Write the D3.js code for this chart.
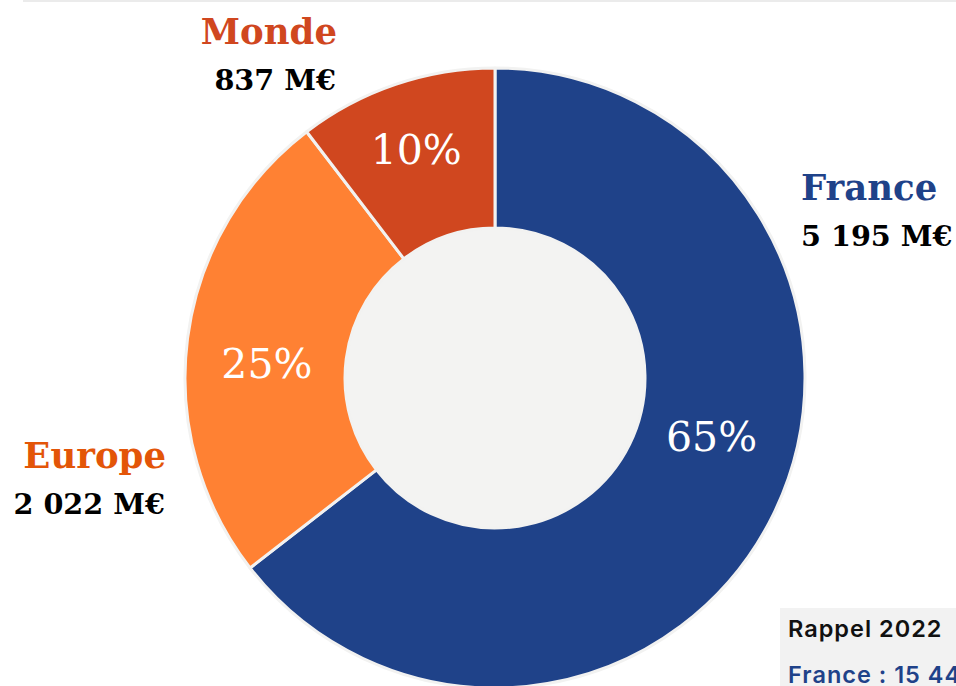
<!DOCTYPE html>
<html>
<head>
<meta charset="utf-8">
<script src="https://cdn.jsdelivr.net/npm/d3@7"></script>
<style>
  body { margin: 0; background: #fff; }
  svg { display: block; }
</style>
</head>
<body>
<svg id="chart"></svg>
<script>
const regions = ['France', 'Europe', 'Monde'];
const amounts = [5195, 2022, 837];
const amountLabels = ['5 195 M€', '2 022 M€', '837 M€'];
const pctLabels = ['65%', '25%', '10%'];
const colors = ['#1f4289', '#ff8133', '#d0471f'];
const nameColors = ['#1f4289', '#e35508', '#d0471f'];

const width = 956, height = 686;
const cx = 495, cy = 378;
const outerR = 310, innerR = 150;

const svg = d3.select('#chart')
  .attr('width', width)
  .attr('height', height);

// thin rule at the top
svg.append('line')
  .attr('x1', 23).attr('x2', width)
  .attr('y1', 1).attr('y2', 1)
  .attr('stroke', '#ebebeb')
  .attr('stroke-width', 2);

const g = svg.append('g')
  .attr('transform', `translate(${cx},${cy})`);

const pie = d3.pie().sort(null).value(d => d);
const arc = d3.arc().innerRadius(innerR).outerRadius(outerR);
const arcs = pie(amounts);

g.append('circle')
  .attr('r', innerR)
  .attr('fill', '#f3f3f2');

g.selectAll('path.slice')
  .data(arcs)
  .enter()
  .append('path')
  .attr('class', 'slice')
  .attr('d', arc)
  .attr('fill', (d, i) => colors[i])
  .attr('stroke', '#f2f2f1')
  .attr('stroke-width', 3)
  .attr('stroke-linejoin', 'round');

// percentage labels sit near the centroid, nudged like the original
const pctNudge = [[10, -42], [0, 16], [-5, -10]];
g.selectAll('text.pct')
  .data(arcs)
  .enter()
  .append('text')
  .attr('class', 'pct')
  .attr('x', (d, i) => arc.centroid(d)[0] + pctNudge[i][0])
  .attr('y', (d, i) => arc.centroid(d)[1] + pctNudge[i][1])
  .attr('text-anchor', 'middle')
  .attr('dominant-baseline', 'central')
  .attr('fill', '#fff')
  .style('font-family', '"DejaVu Serif", serif')
  .style('font-size', '41px')
  .text((d, i) => pctLabels[i]);

// outside labels: name + amount
const labelPos = [
  { x: 801, y: 200, anchor: 'start' },
  { x: 166, y: 468, anchor: 'end' },
  { x: 337, y: 44, anchor: 'end' }
];
const lab = svg.selectAll('g.lab')
  .data(regions)
  .enter()
  .append('g')
  .attr('class', 'lab')
  .style('font-family', '"DejaVu Serif", serif')
  .style('font-weight', 'bold');

lab.append('text')
  .attr('x', (d, i) => labelPos[i].x)
  .attr('y', (d, i) => labelPos[i].y)
  .attr('text-anchor', (d, i) => labelPos[i].anchor)
  .attr('fill', (d, i) => nameColors[i])
  .style('font-size', '35.5px')
  .text(d => d);

lab.append('text')
  .attr('x', (d, i) => labelPos[i].x + (i === 0 ? 0 : -1))
  .attr('y', (d, i) => labelPos[i].y + 46)
  .attr('text-anchor', (d, i) => labelPos[i].anchor)
  .attr('fill', '#000')
  .style('font-size', '28.7px')
  .text((d, i) => amountLabels[i]);

// reminder box, clipped by the frame on the right as in the original
const box = svg.append('g')
  .style('font-family', 'Inter, sans-serif')
  .style('font-weight', 600)
  .style('font-size', '23.5px')
  .style('letter-spacing', '1px');
box.append('rect')
  .attr('x', 780).attr('y', 608)
  .attr('width', 200).attr('height', 90)
  .attr('fill', '#f2f2f2');
box.append('text')
  .attr('x', 788).attr('y', 637)
  .attr('fill', '#111')
  .text('Rappel 2022');
box.append('text')
  .attr('x', 788).attr('y', 683)
  .attr('fill', '#1f4289')
  .text('France : 15 446 M€');
</script>
</body>
</html>
